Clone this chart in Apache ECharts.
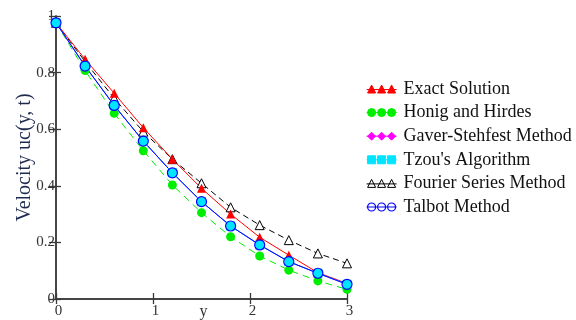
<!DOCTYPE html>
<html>
<head>
<meta charset="utf-8">
<script src="https://cdn.jsdelivr.net/npm/echarts@6/dist/echarts.min.js"></script>
<style>html,body{margin:0;padding:0;background:#fff}#c{width:576px;height:320px}</style>
</head>
<body>
<div id="c"></div>
<script>
const yPos = [0, 0.3, 0.6, 0.9, 1.2, 1.5, 1.8, 2.1, 2.4, 2.7, 3.0];
const exactSolution = [0.976, 0.847, 0.727, 0.605, 0.494, 0.391, 0.300, 0.218, 0.155, 0.093, 0.055];
const honigHirdes = [0.976, 0.807, 0.656, 0.524, 0.403, 0.305, 0.220, 0.152, 0.102, 0.064, 0.034];
const gaverStehfest = [0.976, 0.823, 0.684, 0.558, 0.446, 0.344, 0.258, 0.191, 0.132, 0.091, 0.052];
const tzou = [0.976, 0.823, 0.684, 0.558, 0.446, 0.344, 0.258, 0.191, 0.132, 0.091, 0.052];
const fourier = [0.976, 0.839, 0.709, 0.591, 0.494, 0.409, 0.324, 0.261, 0.208, 0.161, 0.126];
const talbot = [0.976, 0.823, 0.684, 0.558, 0.446, 0.344, 0.258, 0.191, 0.132, 0.091, 0.052];
const seriesNames = ['Exact Solution', 'Honig and Hirdes', 'Gaver-Stehfest Method', "Tzou's Algorithm", 'Fourier Series Method', 'Talbot Method'];

const pair = arr => arr.map((v, i) => [yPos[i], v]);
const serif = '"Liberation Serif", "DejaVu Serif", serif';
const axisCol = '#3a3a3a';
const labCol = '#333';

const triPath = 'path://M0 5.5L30 5.5M1 9L5 1L9 9ZM11 9L15 1L19 9ZM21 9L25 1L29 9Z';
const circPath = 'path://M0 5L30 5M1 5A4 4 0 1 0 9 5A4 4 0 1 0 1 5ZM11 5A4 4 0 1 0 19 5A4 4 0 1 0 11 5ZM21 5A4 4 0 1 0 29 5A4 4 0 1 0 21 5Z';
const diaPath = 'path://M0 5L30 5M5 1L9 5L5 9L1 5ZM15 1L19 5L15 9L11 5ZM25 1L29 5L25 9L21 5Z';
const sqPath = 'path://M0 5L30 5M1 1L9 1L9 9L1 9ZM11 1L19 1L19 9L11 9ZM21 1L29 1L29 9L21 9Z';

const chart = echarts.init(document.getElementById('c'));
chart.setOption({
  animation: false,
  backgroundColor: '#fff',
  grid: { left: 56, right: 229, top: 16, bottom: 21, outerBoundsMode: 'none', containLabel: false },
  legend: {
    orient: 'vertical',
    left: 361,
    top: 74,
    padding: 5,
    itemWidth: 30,
    itemHeight: 10,
    itemGap: 3.6,
    textStyle: { fontFamily: serif, fontSize: 18, lineHeight: 20, color: '#111', padding: [0, 0, 0, 2] },
    data: [
      { name: seriesNames[0], icon: triPath, itemStyle: { color: '#ff0000', borderColor: '#ff0000', borderWidth: 1 } },
      { name: seriesNames[1], icon: circPath, itemStyle: { color: '#00ee00', borderColor: '#00ee00', borderWidth: 1 } },
      { name: seriesNames[2], icon: diaPath, itemStyle: { color: '#ff00ff', borderColor: '#ff00ff', borderWidth: 1 } },
      { name: seriesNames[3], icon: sqPath, itemStyle: { color: '#00e5ff', borderColor: '#00e5ff', borderWidth: 1 } },
      { name: seriesNames[4], icon: triPath, itemStyle: { color: 'rgba(0,0,0,0)', borderColor: '#000', borderWidth: 1 } },
      { name: seriesNames[5], icon: circPath, itemStyle: { color: 'rgba(0,0,0,0)', borderColor: '#0000ff', borderWidth: 1.2 } }
    ]
  },
  xAxis: [
    {
      type: 'value', min: 0, max: 3, interval: 1, position: 'bottom',
      name: 'y', nameLocation: 'middle', nameGap: 5, nameMoveOverlap: false,
      nameTextStyle: { fontFamily: serif, fontSize: 16, color: labCol, padding: [0, 0, 0, 4] },
      axisLine: { show: true, lineStyle: { color: axisCol, width: 1.5 } },
      axisTick: { show: true, inside: true, length: 6, lineStyle: { color: axisCol, width: 1.3 } },
      axisLabel: { fontFamily: serif, fontSize: 15, color: labCol, margin: 5, padding: [0, 0, 0, 5] },
      splitLine: { show: false }
    },
    {
      type: 'value', min: 0, max: 3, interval: 1, position: 'top',
      axisLine: { show: true, lineStyle: { color: axisCol, width: 1.5 } },
      axisTick: { show: true, inside: true, length: 5, lineStyle: { color: axisCol, width: 1.3 } },
      axisLabel: { show: false },
      splitLine: { show: false }
    }
  ],
  yAxis: [
    {
      type: 'value', min: 0, max: 1, interval: 0.2, position: 'left',
      name: 'Velocity uc(y, t)', nameLocation: 'middle', nameGap: 21, nameRotate: 90, nameMoveOverlap: false,
      nameTextStyle: { fontFamily: serif, fontSize: 20, color: '#1f2a50' },
      axisLine: { show: true, lineStyle: { color: axisCol, width: 1.5 } },
      axisTick: { show: true, inside: true, length: 5, lineStyle: { color: axisCol, width: 1.3 } },
      axisLabel: { fontFamily: serif, fontSize: 15, color: labCol, margin: 1 },
      splitLine: { show: false }
    },
    {
      type: 'value', min: 0, max: 1, interval: 0.2, position: 'right',
      axisLine: { show: true, lineStyle: { color: axisCol, width: 1.5 } },
      axisTick: { show: true, inside: true, length: 7, lineStyle: { color: axisCol, width: 1.3 } },
      axisLabel: { show: false },
      splitLine: { show: false }
    }
  ],
  series: [
    {
      name: seriesNames[4], type: 'line', data: pair(fourier),
      symbol: 'triangle', symbolSize: 9,
      lineStyle: { color: '#000', width: 1, type: [6, 4] },
      itemStyle: { color: '#fff', borderColor: '#000', borderWidth: 1 }
    },
    {
      name: seriesNames[0], type: 'line', data: pair(exactSolution),
      symbol: 'triangle', symbolSize: 9,
      lineStyle: { color: '#ff0000', width: 1 },
      itemStyle: { color: '#ff0000' }
    },
    {
      name: seriesNames[1], type: 'line', data: pair(honigHirdes),
      symbol: 'circle', symbolSize: 9,
      lineStyle: { color: '#00ee00', width: 1, type: [7, 5] },
      itemStyle: { color: '#00ee00' }
    },
    {
      name: seriesNames[2], type: 'line', data: pair(gaverStehfest),
      symbol: 'diamond', symbolSize: 8,
      lineStyle: { color: '#ff00ff', width: 1 },
      itemStyle: { color: '#ff00ff' }
    },
    {
      name: seriesNames[3], type: 'line', data: pair(tzou),
      symbol: 'rect', symbolSize: 9,
      lineStyle: { color: '#00e5ff', width: 1 },
      itemStyle: { color: '#00e5ff' }
    },
    {
      name: seriesNames[5], type: 'line', data: pair(talbot),
      symbol: 'circle', symbolSize: 10,
      lineStyle: { color: '#0000ff', width: 1 },
      itemStyle: { color: 'rgba(0,0,0,0)', borderColor: '#0000ff', borderWidth: 1.2 }
    }
  ]
});
</script>
</body>
</html>
